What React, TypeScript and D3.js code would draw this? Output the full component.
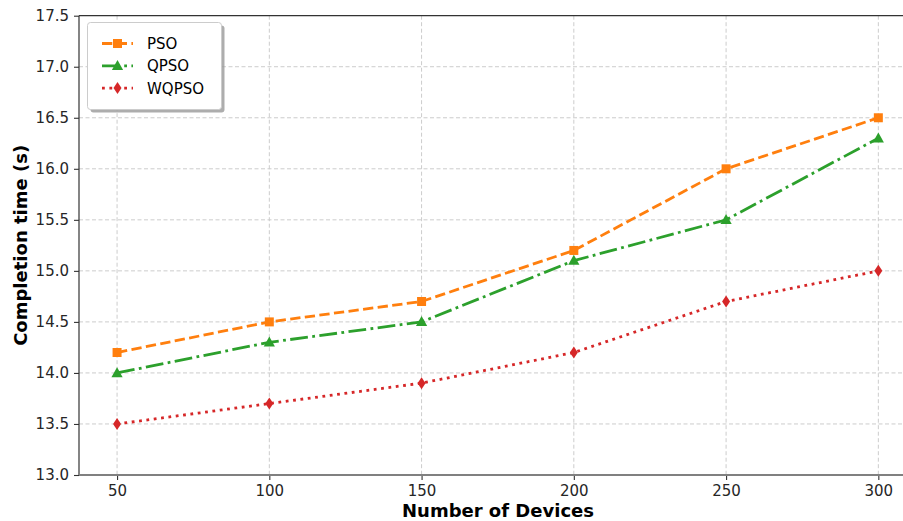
import React, { useEffect, useRef } from "react";
import * as d3 from "d3";

const devices = [50, 100, 150, 200, 250, 300];
const psoTimes = [14.2, 14.5, 14.7, 15.2, 16.0, 16.5];
const qpsoTimes = [14.0, 14.3, 14.5, 15.1, 15.5, 16.3];
const wqpsoTimes = [13.5, 13.7, 13.9, 14.2, 14.7, 15.0];
const yTicks = [13.0, 13.5, 14.0, 14.5, 15.0, 15.5, 16.0, 16.5, 17.0, 17.5];
const seriesNames = ["PSO", "QPSO", "WQPSO"];

const App = () => {
  const svgRef = useRef(null);

  useEffect(() => {
    document.body.style.margin = "0";
    const width = 903;
    const height = 521;
    const left = 79;
    const top = 15.7;
    const bottom = 475;
    const right = 916.4;

    const svg = d3.select(svgRef.current).attr("width", width).attr("height", height);
    svg.selectAll("*").remove();

    const x = d3.scaleLinear().domain([37.5, 312.5]).range([left, right]);
    const y = d3.scaleLinear().domain([13.0, 17.5]).range([bottom, top]);

    const font = "DejaVu Sans, sans-serif";
    const textColor = "#262626";

    // grid
    const grid = svg.append("g");
    grid.selectAll(".gx").data(devices).enter().append("line")
      .attr("x1", d => x(d)).attr("x2", d => x(d))
      .attr("y1", top).attr("y2", bottom)
      .attr("stroke", "#cccccc").attr("stroke-width", 1)
      .attr("stroke-dasharray", "4,2.5");
    grid.selectAll(".gy").data(yTicks.slice(1, -1)).enter().append("line")
      .attr("x1", left).attr("x2", right)
      .attr("y1", d => y(d)).attr("y2", d => y(d))
      .attr("stroke", "#cccccc").attr("stroke-width", 1)
      .attr("stroke-dasharray", "4,2.5");

    // axes
    const xAxis = d3.axisBottom(x).tickValues(devices).tickSize(5).tickPadding(5)
      .tickFormat(d => String(d));
    const gx = svg.append("g").attr("transform", `translate(0,${bottom})`).call(xAxis);
    const yAxis = d3.axisLeft(y).tickValues(yTicks).tickSize(5).tickPadding(5)
      .tickFormat(d3.format(".1f"));
    const gy = svg.append("g").attr("transform", `translate(${left},0)`).call(yAxis);

    [gx, gy].forEach(g => {
      g.select(".domain").remove();
      g.selectAll(".tick line").attr("stroke", "#333").attr("stroke-width", 1.1);
      g.selectAll(".tick text").attr("fill", textColor)
        .style("font-family", font).style("font-size", "15px");
    });

    // spines
    svg.append("line").attr("x1", left).attr("x2", left).attr("y1", top).attr("y2", bottom)
      .attr("stroke", "#333").attr("stroke-width", 1.2);
    svg.append("line").attr("x1", left).attr("x2", right).attr("y1", top).attr("y2", top)
      .attr("stroke", "#333").attr("stroke-width", 1.2);
    svg.append("line").attr("x1", left).attr("x2", right).attr("y1", bottom).attr("y2", bottom)
      .attr("stroke", "#808080").attr("stroke-width", 1.8);

    // labels
    svg.append("text")
      .attr("x", 498).attr("y", 517)
      .attr("text-anchor", "middle")
      .style("font-family", font).style("font-size", "18px").style("font-weight", "bold")
      .attr("fill", "#000")
      .text("Number of Devices");
    svg.append("text")
      .attr("transform", `translate(27,${(top + bottom) / 2}) rotate(-90)`)
      .attr("text-anchor", "middle")
      .style("font-family", font).style("font-size", "18px").style("font-weight", "bold")
      .attr("fill", "#000")
      .text("Completion time (s)");

    const series = [
      { name: seriesNames[0], values: psoTimes, color: "#ff7f0e", dash: "10.3,4.4", marker: "square" },
      { name: seriesNames[1], values: qpsoTimes, color: "#2ca02c", dash: "17.8,4.4,2.8,4.4", marker: "triangle" },
      { name: seriesNames[2], values: wqpsoTimes, color: "#d62728", dash: "2.8,4.6", marker: "diamond" },
    ];

    const markerPath = (type) => {
      if (type === "square") return "M-4.5,-4.5H4.5V4.5H-4.5Z";
      if (type === "triangle") return "M0,-5.8L5.6,4.2L-5.6,4.2Z";
      return "M0,-6L4,0L0,6L-4,0Z";
    };

    const line = d3.line().x(d => x(d[0])).y(d => y(d[1]));
    const plot = svg.append("g");
    series.forEach(s => {
      const pts = devices.map((d, i) => [d, s.values[i]]);
      plot.append("path").datum(pts)
        .attr("d", line)
        .attr("fill", "none")
        .attr("stroke", s.color)
        .attr("stroke-width", 2.8)
        .attr("stroke-dasharray", s.dash);
      plot.selectAll(null).data(pts).enter().append("path")
        .attr("transform", d => `translate(${x(d[0])},${y(d[1])})`)
        .attr("d", markerPath(s.marker))
        .attr("fill", s.color);
    });

    // legend
    const lg = svg.append("g");
    lg.append("rect").attr("x", 90.5).attr("y", 25.5).attr("width", 134).attr("height", 87)
      .attr("rx", 3).attr("fill", "#999").attr("opacity", 0.8);
    lg.append("rect").attr("x", 87.5).attr("y", 22.5).attr("width", 134).attr("height", 87)
      .attr("rx", 3).attr("fill", "#fff").attr("stroke", "#cccccc").attr("stroke-width", 1);
    series.forEach((s, i) => {
      const ly = 43.5 + i * 22.3;
      lg.append("line").attr("x1", 102).attr("x2", 133).attr("y1", ly).attr("y2", ly)
        .attr("stroke", s.color).attr("stroke-width", 2.8).attr("stroke-dasharray", s.dash);
      lg.append("path").attr("transform", `translate(117.5,${ly})`)
        .attr("d", markerPath(s.marker)).attr("fill", s.color);
      lg.append("text").attr("x", 147).attr("y", ly).attr("dy", "0.36em")
        .style("font-family", font).style("font-size", "15px")
        .attr("fill", "#000")
        .text(s.name);
    });
  }, []);

  return <svg ref={svgRef} style={{ display: "block" }}></svg>;
};

export default App;
